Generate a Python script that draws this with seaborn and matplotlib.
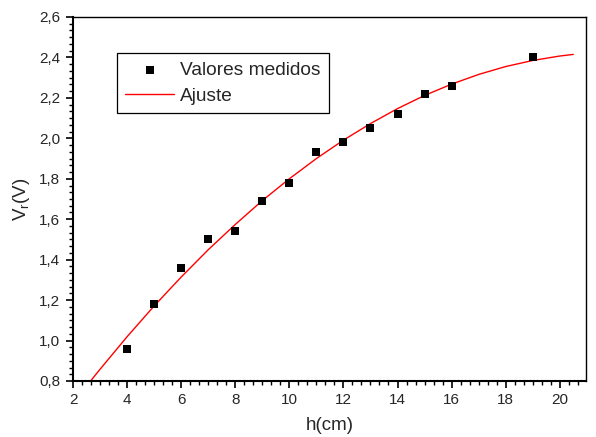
import numpy as np
import pandas as pd
import matplotlib
matplotlib.use("Agg")
import matplotlib.pyplot as plt
import seaborn as sns
from matplotlib.ticker import AutoMinorLocator, FuncFormatter

# measured values
h_cm = [4, 5, 6, 7, 8, 9, 10, 11, 12, 13, 14, 15, 16, 19]
vr_v = [0.96, 1.18, 1.36, 1.50, 1.54, 1.69, 1.78, 1.93, 1.98, 2.05, 2.12, 2.22, 2.26, 2.40]

# fitted curve
fit_h = [2.65, 3, 4, 5, 6, 7, 8, 9, 10, 11, 12, 13, 14, 15, 16, 17, 18, 19, 20, 20.5]
fit_v = [0.80, 0.858, 1.019, 1.171, 1.314, 1.449, 1.574, 1.692, 1.80, 1.90, 1.991,
         2.073, 2.147, 2.212, 2.268, 2.316, 2.355, 2.385, 2.407, 2.415]

x_ticks = [2, 4, 6, 8, 10, 12, 14, 16, 18, 20]
y_ticks = [0.8, 1.0, 1.2, 1.4, 1.6, 1.8, 2.0, 2.2, 2.4, 2.6]

meas = pd.DataFrame({"h": h_cm, "v": vr_v})
fit = pd.DataFrame({"h": fit_h, "v": fit_v})

sns.set_style("ticks")
plt.rcParams["font.family"] = ["Liberation Sans", "DejaVu Sans"]

fig = plt.figure(figsize=(5.96, 4.37), dpi=100)
ax = fig.add_axes([73 / 596, 56 / 437, 513 / 596, 364 / 437])

sns.scatterplot(data=meas, x="h", y="v", marker="s", color="black", s=34,
                linewidth=0, label="Valores medidos", ax=ax, zorder=3)
sns.lineplot(data=fit, x="h", y="v", color="red", linewidth=1.0,
             label="Ajuste", ax=ax, zorder=2)

ax.set_xlim(2, 20.97)
ax.set_ylim(0.8, 2.6)
ax.set_xticks(x_ticks)
ax.set_yticks(y_ticks)
ax.xaxis.set_minor_locator(AutoMinorLocator(6))
ax.yaxis.set_minor_locator(AutoMinorLocator(6))
ax.xaxis.set_major_formatter(FuncFormatter(lambda v, p: "%d" % v))
ax.yaxis.set_major_formatter(FuncFormatter(lambda v, p: ("%.1f" % v).replace(".", ",")))

ax.tick_params(which="major", direction="out", length=5, width=1.2, labelsize=11, color="black", pad=4)
ax.tick_params(which="minor", direction="out", length=3, width=1.0, color="black")
for side in ["left", "bottom", "top", "right"]:
    ax.spines[side].set_visible(True)
    ax.spines[side].set_color("black")
ax.spines["left"].set_linewidth(1.5)
ax.spines["bottom"].set_linewidth(1.5)
ax.spines["top"].set_linewidth(1.0)
ax.spines["right"].set_linewidth(1.0)

ax.set_xlabel("h(cm)", fontsize=13.5, labelpad=7)
ax.set_ylabel(r"V$_\mathregular{r}$(V)", fontsize=13.5, labelpad=5)

leg = ax.legend(loc="upper left", bbox_to_anchor=(0.085, 0.90), borderaxespad=0,
                fancybox=False, frameon=True, edgecolor="black", fontsize=13.8,
                handlelength=2.55, handletextpad=0.3, labelspacing=0.4,
                borderpad=0.45, markerscale=1.0)
leg.get_frame().set_linewidth(0.9)
leg.get_frame().set_alpha(1)

fig.savefig("out.png", dpi=100)
